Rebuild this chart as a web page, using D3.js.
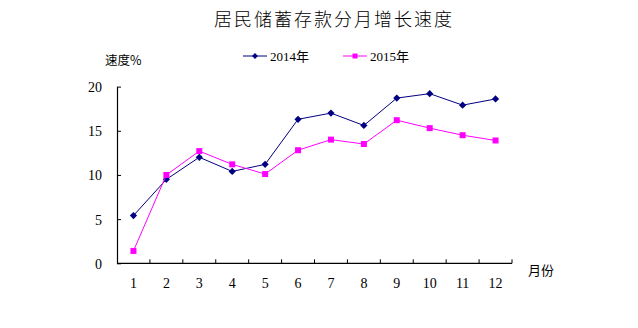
<!DOCTYPE html>
<html>
<head>
<meta charset="utf-8">
<script src="https://cdn.jsdelivr.net/npm/d3@7"></script>
<style>
  html, body { margin: 0; padding: 0; background: #fff; }
  svg { display: block; }
  .cjk { font-family: "Noto Sans CJK SC", sans-serif; }
  .num { font-family: "Liberation Serif", "Times New Roman", serif; }
</style>
</head>
<body>
<svg id="chart" width="638" height="328"></svg>
<script>
// Monthly growth rate of household savings deposits (%)
const months = ["1","2","3","4","5","6","7","8","9","10","11","12"];
const values2014 = [5.4, 9.5, 12.0, 10.4, 11.2, 16.3, 17.0, 15.6, 18.7, 19.2, 17.9, 18.6];
const values2015 = [1.4, 10.0, 12.7, 11.2, 10.1, 12.8, 14.0, 13.5, 16.2, 15.3, 14.5, 13.9];
const yTicks = [0, 5, 10, 15, 20];
const seriesNames = ["2014年", "2015年"];
const seriesColors = ["#000080", "#FF00FF"];

const svg = d3.select("#chart");
const plot = { left: 117, right: 512, top: 86.6, bottom: 263.3 };

const x = d3.scaleBand().domain(months).range([plot.left, plot.right]);
const y = d3.scaleLinear().domain([0, 20]).range([plot.bottom, plot.top]);

// Title
svg.append("text").attr("class", "cjk")
  .attr("x", 334).attr("y", 26)
  .attr("text-anchor", "middle")
  .attr("font-size", 18).attr("letter-spacing", 2)
  .attr("font-weight", 300)
  .attr("fill", "#000")
  .text("居民储蓄存款分月增长速度");

// Y axis with inward ticks
const yAxis = svg.append("g")
  .attr("transform", `translate(${plot.left},0)`)
  .call(d3.axisLeft(y).tickValues(yTicks).tickSize(-4).tickSizeOuter(0).tickPadding(15));
yAxis.select(".domain").attr("stroke", "#000").attr("stroke-width", 1.2);
yAxis.selectAll(".tick line").attr("stroke", "#000");
yAxis.selectAll(".tick text").attr("class", "num").attr("font-size", 14).attr("fill", "#000")
  .attr("dy", "0.35em");

// X axis: ticks at category boundaries, pointing up
const xAxisG = svg.append("g").attr("transform", `translate(0,${plot.bottom})`);
xAxisG.append("line")
  .attr("x1", plot.left).attr("x2", plot.right)
  .attr("y1", 0).attr("y2", 0)
  .attr("stroke", "#000").attr("stroke-width", 1.2);
const boundaries = months.map(m => x(m) + x.bandwidth());
xAxisG.selectAll("line.tick").data(boundaries).join("line")
  .attr("class", "tick")
  .attr("x1", d => d).attr("x2", d => d)
  .attr("y1", 0).attr("y2", -4)
  .attr("stroke", "#000");
xAxisG.selectAll("text.lbl").data(months).join("text")
  .attr("class", "num lbl")
  .attr("x", d => x(d) + x.bandwidth() / 2)
  .attr("y", 25)
  .attr("text-anchor", "middle")
  .attr("font-size", 14)
  .text(d => d);

// Axis titles
svg.append("text").attr("class", "cjk")
  .attr("x", 105).attr("y", 65)
  .attr("font-size", 12.5).text("速度%");
svg.append("text").attr("class", "cjk")
  .attr("x", 528).attr("y", 275)
  .attr("font-size", 13).text("月份");

const cx = d => x(d) + x.bandwidth() / 2;
const line = d3.line().x(d => cx(d.m)).y(d => y(d.v));

const series = [values2014, values2015].map((vals, i) => ({
  name: seriesNames[i],
  color: seriesColors[i],
  points: vals.map((v, j) => ({ m: months[j], v }))
}));

// Diamond = square turned 45 degrees; square markers stay upright
const markerPath = (i, size) => d3.symbol().type(d3.symbolSquare).size(size)();
const markerRot = i => (i === 0 ? 45 : 0);
const markerSize = [26, 36];

series.forEach((s, i) => {
  svg.append("path")
    .attr("d", line(s.points))
    .attr("fill", "none").attr("stroke", s.color).attr("stroke-width", 1);
  svg.selectAll(null).data(s.points).join("path")
    .attr("transform", d => `translate(${cx(d.m)},${y(d.v)}) rotate(${markerRot(i)})`)
    .attr("d", markerPath(i, markerSize[i]))
    .attr("fill", s.color);
});

// Legend
const legendPos = [243, 343];
series.forEach((s, i) => {
  const g = svg.append("g").attr("transform", `translate(${legendPos[i]},56)`);
  g.append("line").attr("x1", 0).attr("x2", 24).attr("y1", 0).attr("y2", 0)
    .attr("stroke", s.color).attr("stroke-width", 1);
  g.append("path").attr("transform", `translate(12,0) rotate(${markerRot(i)})`)
    .attr("d", markerPath(i, i === 0 ? 18 : 25))
    .attr("fill", s.color);
  g.append("text").attr("x", 27).attr("y", 5)
    .attr("font-size", 13)
    .attr("font-family", "'Liberation Serif', 'Noto Sans CJK SC', serif")
    .text(s.name);
});
</script>
</body>
</html>
